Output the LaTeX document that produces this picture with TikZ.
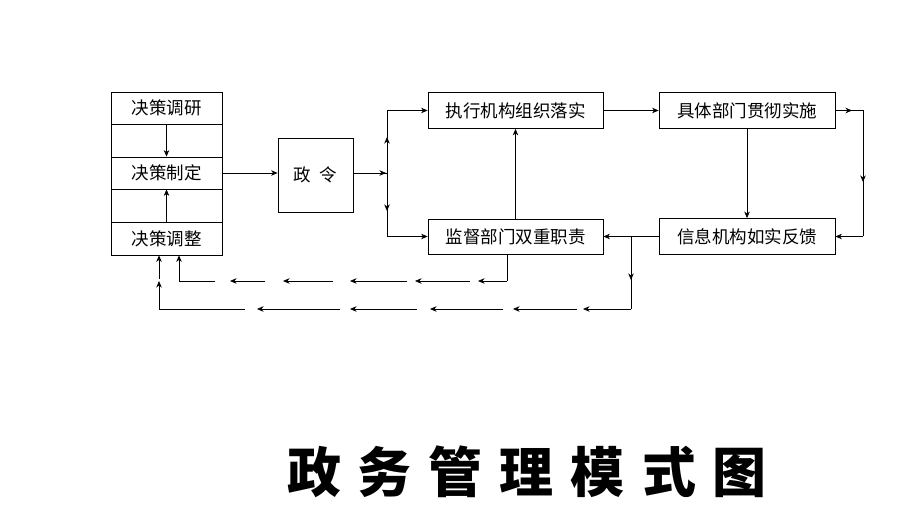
\documentclass[tikz,border=0pt]{standalone}
\usepackage{fontspec}
\newfontfamily\cjk{Noto Sans CJK SC}
\usetikzlibrary{arrows.meta}
\begin{document}
\begin{tikzpicture}[x=1pt,y=-1pt,
  box/.style={draw,line width=0.8pt,rectangle,inner sep=0pt,font=\cjk\fontsize{17.5}{18}\selectfont},
  ln/.style={line width=0.7pt},
  arr/.style={ln,-{Stealth[length=6.5pt,width=5.5pt,inset=2pt]}}]
\useasboundingbox (0,0) rectangle (901,526);
% left stack
\node[box,minimum width=111pt,minimum height=32pt] (yany) at (166.5,108) {决策调研};
\node[box,minimum width=111pt,minimum height=33pt] (gapa) at (166.5,140.5) {};
\node[box,minimum width=111pt,minimum height=32pt] (zhid) at (166.5,173) {决策制定};
\node[box,minimum width=111pt,minimum height=33pt] (gapb) at (166.5,205.5) {};
\node[box,minimum width=111pt,minimum height=33pt] (tiaoz) at (166.5,238.5) {决策调整};
\node[box,minimum width=75pt,minimum height=74pt] (zl) at (315.5,175) {政\hspace{9pt}令};
\node[box,minimum width=175pt,minimum height=36pt] (zx) at (515.5,110.5) {执行机构组织落实};
\node[box,minimum width=175pt,minimum height=35pt] (jd) at (515.5,236.5) {监督部门双重职责};
\node[box,minimum width=176pt,minimum height=36pt] (jt) at (747,110.5) {具体部门贯彻实施};
\node[box,minimum width=176pt,minimum height=36pt] (xx) at (747,236.5) {信息机构如实反馈};
% title
\node[font=\cjk\bfseries\fontsize{54}{54}\selectfont] (title) at (527,472) {政\hspace{17pt}务\hspace{17pt}管\hspace{17pt}理\hspace{17pt}模\hspace{17pt}式\hspace{17pt}图};
% coordinates
\coordinate (sp) at (387,173);
\coordinate (rc) at (863,110.5);
\coordinate (jn) at (631,236.5);
\coordinate (jnb) at (631,309);
\coordinate (ob) at (159,309);
\coordinate (ia) at (507,281);
\coordinate (ib) at (179,281);
% connectors
\draw[arr] (yany.south) -- (zhid.north);
\draw[arr] (tiaoz.north) -- (zhid.south);
\draw[arr] (zhid.east) -- (zhid.east -| zl.west);
\draw[ln] (zl.east |- sp) -- (sp);
\draw[arr] (zl.east |- sp) -- ([xshift=-1pt]sp);
\draw[ln] (sp |- zx.west) -- (sp |- jd.west);
\draw[arr] (sp) -- (387,137);
\draw[arr] (sp) -- (387,211);
\draw[arr] (sp |- zx.west) -- (zx.west);
\draw[arr] (sp |- jd.west) -- (jd.west);
\draw[arr] (jd.north) -- (zx.south);
\draw[arr] (zx.east) -- (jt.west);
\draw[ln] (jt.east) -- (rc) -- (rc |- xx.east);
\draw[arr] (jt.east) -- (852,110.5);
\draw[arr] (rc) -- (863,182);
\draw[arr] (rc |- xx.east) -- (xx.east);
\draw[arr] (jt.south) -- (xx.north);
\draw[arr] (xx.west) -- (jd.east);
\draw[ln] (jn) -- (jnb);
\draw[arr] (jn) -- (631,280);
% bottom dashed arrow line
\foreach \a/\b in {631/583,577/513,503/430,417/350,340/257}
  \draw[arr] (\a,309) -- (\b,309);
\draw[ln] (245,309) -- (ob);
\draw[ln] (ob) -- (159,283);
\draw[arr] (ob) -- (159,281);
\draw[arr] (159,279) -- (ob |- tiaoz.south);
% inner dashed arrow line
\draw[ln] ([xshift=-8.5pt]jd.south) -- (ia);
\foreach \a/\b in {507/478,470/415,407/350,333/283,265/230}
  \draw[arr] (\a,281) -- (\b,281);
\draw[ln] (215,281) -- (ib);
\draw[arr] (ib) -- (ib |- tiaoz.south);
\end{tikzpicture}
\end{document}
